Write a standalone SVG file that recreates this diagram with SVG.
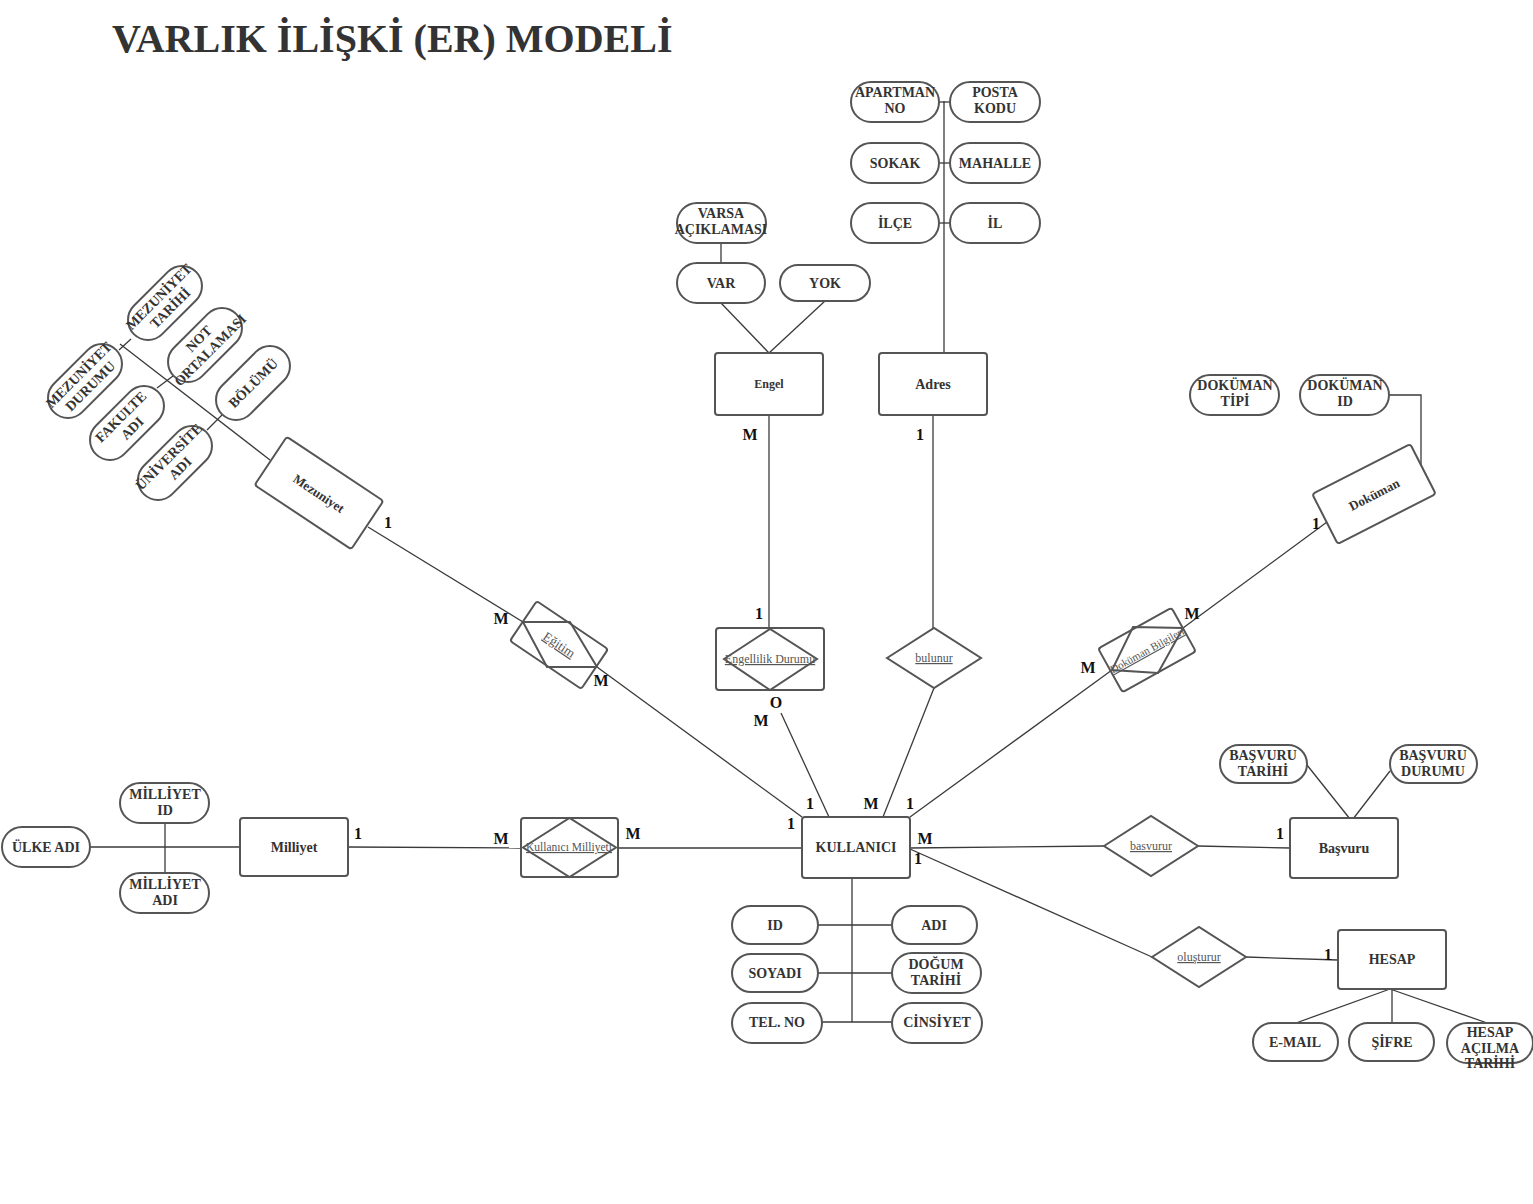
<svg xmlns="http://www.w3.org/2000/svg" width="1533" height="1204" viewBox="0 0 1533 1204">
<style>
.bx{fill:#fff;stroke:#555;stroke-width:2}
.sh{fill:none;stroke:#555;stroke-width:2}
.ln{fill:none;stroke:#3a3a3a;stroke-width:1.3}
.t{font-family:"Liberation Serif",serif;font-weight:bold;font-size:14px;fill:#333;text-anchor:middle}
.e{font-family:"Liberation Serif",serif;font-weight:bold;font-size:14px;fill:#333;text-anchor:middle}
.r{font-family:"Liberation Serif",serif;font-size:12px;fill:#555;text-anchor:middle;text-decoration:underline}
.c{font-family:"Liberation Serif",serif;font-weight:bold;font-size:16px;fill:#111;text-anchor:middle}
.title{font-family:"Liberation Serif",serif;font-weight:bold;font-size:40px;fill:#333}
</style>
<rect width="1533" height="1204" fill="#fff"/>
<text class="title" x="112" y="52">VARLIK İLİŞKİ (ER) MODELİ</text>

<g id="connectors">
<line class="ln" x1="120" y1="344" x2="270" y2="460"/>
<line class="ln" x1="119" y1="350" x2="131" y2="339"/>
<line class="ln" x1="157" y1="388" x2="173" y2="376"/>
<line class="ln" x1="207" y1="430" x2="222" y2="415"/>
<line class="ln" x1="368" y1="527" x2="523" y2="622"/>
<line class="ln" x1="597" y1="667" x2="802" y2="817"/>
<line class="ln" x1="721" y1="243" x2="721" y2="263"/>
<line class="ln" x1="721" y1="303" x2="769" y2="353"/>
<line class="ln" x1="825" y1="301" x2="769" y2="353"/>
<line class="ln" x1="769" y1="415" x2="769" y2="629"/>
<line class="ln" x1="781" y1="713" x2="829" y2="817"/>
<line class="ln" x1="944" y1="101" x2="944" y2="352"/>
<line class="ln" x1="939" y1="102" x2="950" y2="102"/>
<line class="ln" x1="939" y1="163" x2="950" y2="163"/>
<line class="ln" x1="939" y1="223" x2="950" y2="223"/>
<line class="ln" x1="933" y1="415" x2="933" y2="628"/>
<line class="ln" x1="934" y1="688" x2="883" y2="817"/>
<polyline class="ln" points="1389,395 1421,395 1421,465"/>
<line class="ln" x1="1327" y1="522" x2="1183" y2="628"/>
<line class="ln" x1="1112" y1="670" x2="910" y2="817"/>
<line class="ln" x1="90" y1="847" x2="240" y2="847"/>
<line class="ln" x1="165" y1="823" x2="165" y2="873"/>
<line class="ln" x1="348" y1="847" x2="521" y2="848"/>
<line class="ln" x1="618" y1="848" x2="802" y2="848"/>
<line class="ln" x1="910" y1="848" x2="1104" y2="846"/>
<line class="ln" x1="1198" y1="846" x2="1290" y2="848"/>
<line class="ln" x1="910" y1="849" x2="1152" y2="957"/>
<line class="ln" x1="1246" y1="957" x2="1338" y2="960"/>
<line class="ln" x1="1307" y1="765" x2="1350" y2="819"/>
<line class="ln" x1="1390" y1="771" x2="1353" y2="819"/>
<line class="ln" x1="1390" y1="989" x2="1296" y2="1023"/>
<line class="ln" x1="1392" y1="989" x2="1392" y2="1023"/>
<line class="ln" x1="1390" y1="989" x2="1490" y2="1024"/>
<line class="ln" x1="852" y1="878" x2="852" y2="1022"/>
<line class="ln" x1="818" y1="925" x2="892" y2="925"/>
<line class="ln" x1="818" y1="973" x2="892" y2="973"/>
<line class="ln" x1="822" y1="1022" x2="892" y2="1022"/>
</g>

<g id="cardinalities">
<text class="c" x="388" y="528">1</text>
<text class="c" x="501" y="624">M</text>
<text class="c" x="601" y="686">M</text>
<text class="c" x="750" y="440">M</text>
<text class="c" x="920" y="440">1</text>
<text class="c" x="759" y="619">1</text>
<text class="c" x="776" y="708">O</text>
<text class="c" x="761" y="726">M</text>
<text class="c" x="810" y="809">1</text>
<text class="c" x="871" y="809">M</text>
<text class="c" x="910" y="809">1</text>
<text class="c" x="791" y="829">1</text>
<text class="c" x="925" y="844">M</text>
<text class="c" x="918" y="864">1</text>
<text class="c" x="358" y="839">1</text>
<text class="c" x="501" y="844">M</text>
<text class="c" x="633" y="839">M</text>
<text class="c" x="1316" y="529">1</text>
<text class="c" x="1192" y="619">M</text>
<text class="c" x="1088" y="673">M</text>
<text class="c" x="1280" y="839">1</text>
<text class="c" x="1328" y="960">1</text>
</g>

<!-- Entities -->
<g id="kullanici"><rect class="bx" x="802" y="817" width="108" height="61" rx="3"/><text class="e" x="856" y="852">KULLANICI</text></g>
<g id="milliyet"><rect class="bx" x="240" y="818" width="108" height="58" rx="3"/><text class="e" x="294" y="852">Milliyet</text></g>
<g id="engel"><rect class="bx" x="715" y="353" width="108" height="62" rx="3"/><text class="e" x="769" y="388" style="font-size:12px">Engel</text></g>
<g id="adres"><rect class="bx" x="879" y="353" width="108" height="62" rx="3"/><text class="e" x="933" y="389">Adres</text></g>
<g id="basvuru"><rect class="bx" x="1290" y="818" width="108" height="60" rx="3"/><text class="e" x="1344" y="853">Başvuru</text></g>
<g id="hesap"><rect class="bx" x="1338" y="930" width="108" height="59" rx="3"/><text class="e" x="1392" y="964">HESAP</text></g>
<g id="mezuniyet" transform="translate(319,493) rotate(33.6)"><rect class="bx" x="-58" y="-29" width="116" height="58" rx="3"/><text class="e" x="0" y="5" style="font-size:13px">Mezuniyet</text></g>
<g id="dokuman" transform="translate(1374,494) rotate(-27)"><rect class="bx" x="-55" y="-28" width="110" height="56" rx="3"/><text class="e" x="0" y="5" style="font-size:13px">Doküman</text></g>

<!-- Relationships -->
<g id="kullanici-milliyeti"><rect class="bx" x="521" y="818" width="97" height="59" rx="3"/><polygon class="sh" points="523,847.5 569.5,818 616,847.5 569.5,877"/><text class="r" x="569" y="851" style="font-size:11.5px">Kullanıcı Milliyeti</text></g>
<g id="engellilik-durumu"><rect class="bx" x="716" y="628" width="108" height="62" rx="3"/><polygon class="sh" points="724,659 770,629 817,659 770,690"/><text class="r" x="770" y="663">Engellilik Durumu</text></g>
<g id="bulunur"><polygon class="bx" points="887,658 934,628 981,658 934,688"/><text class="r" x="934" y="662">bulunur</text></g>
<g id="basvurur"><polygon class="bx" points="1104,846 1151,816 1198,846 1151,876"/><text class="r" x="1151" y="850">basvurur</text></g>
<g id="olusturur"><polygon class="bx" points="1152,957 1199,927 1246,957 1199,987"/><text class="r" x="1199" y="961">oluşturur</text></g>
<g id="egitim"><g transform="translate(559,645) rotate(34)"><rect class="bx" x="-43" y="-24" width="86" height="48" rx="3"/></g><polygon class="sh" points="523,622 570,622 597,667 547,667"/><text class="r" transform="translate(559,645) rotate(34)" x="0" y="4" style="font-size:13px">Eğitim</text></g>
<g id="dokuman-bilgileri"><g transform="translate(1147,650) rotate(-29)"><rect class="bx" x="-42" y="-25" width="84" height="50" rx="3"/></g><polygon class="sh" points="1133,627 1183,628 1158,673 1112,670"/><text class="r" transform="translate(1147,650) rotate(-29)" x="0" y="4" style="font-size:11px">Doküman Bilgileri</text></g>

<!-- Attributes -->
<g id="varsa-aciklamasi"><rect class="bx" x="677" y="203" width="89" height="40" rx="20"/><text class="t" x="721" y="218">VARSA</text><text class="t" x="721" y="234">AÇIKLAMASI</text></g>
<g id="var"><rect class="bx" x="677" y="263" width="88" height="40" rx="20"/><text class="t" x="721" y="288">VAR</text></g>
<g id="yok"><rect class="bx" x="780" y="265" width="90" height="36" rx="18"/><text class="t" x="825" y="288">YOK</text></g>
<g id="apartman-no"><rect class="bx" x="851" y="82" width="88" height="40" rx="20"/><text class="t" x="895" y="97">APARTMAN</text><text class="t" x="895" y="113">NO</text></g>
<g id="posta-kodu"><rect class="bx" x="950" y="82" width="90" height="40" rx="20"/><text class="t" x="995" y="97">POSTA</text><text class="t" x="995" y="113">KODU</text></g>
<g id="sokak"><rect class="bx" x="851" y="143" width="88" height="40" rx="20"/><text class="t" x="895" y="168">SOKAK</text></g>
<g id="mahalle"><rect class="bx" x="950" y="143" width="90" height="40" rx="20"/><text class="t" x="995" y="168">MAHALLE</text></g>
<g id="ilce"><rect class="bx" x="851" y="203" width="88" height="40" rx="20"/><text class="t" x="895" y="228">İLÇE</text></g>
<g id="il"><rect class="bx" x="950" y="203" width="90" height="40" rx="20"/><text class="t" x="995" y="228">İL</text></g>
<g id="dokuman-tipi"><rect class="bx" x="1190" y="375" width="89" height="40" rx="20"/><text class="t" x="1235" y="390">DOKÜMAN</text><text class="t" x="1235" y="406">TİPİ</text></g>
<g id="dokuman-id"><rect class="bx" x="1300" y="375" width="89" height="40" rx="20"/><text class="t" x="1345" y="390">DOKÜMAN</text><text class="t" x="1345" y="406">ID</text></g>
<g id="basvuru-tarihi"><rect class="bx" x="1220" y="745" width="87" height="38" rx="19"/><text class="t" x="1263" y="760">BAŞVURU</text><text class="t" x="1263" y="776">TARİHİ</text></g>
<g id="basvuru-durumu"><rect class="bx" x="1390" y="745" width="87" height="38" rx="19"/><text class="t" x="1433" y="760">BAŞVURU</text><text class="t" x="1433" y="776">DURUMU</text></g>
<g id="e-mail"><rect class="bx" x="1253" y="1023" width="85" height="38" rx="19"/><text class="t" x="1295" y="1047">E-MAIL</text></g>
<g id="sifre"><rect class="bx" x="1349" y="1023" width="85" height="38" rx="19"/><text class="t" x="1392" y="1047">ŞİFRE</text></g>
<g id="hesap-acilma-tarihi"><rect class="bx" x="1447" y="1023" width="86" height="40" rx="20"/><text class="t" x="1490" y="1037">HESAP</text><text class="t" x="1490" y="1053">AÇILMA</text><text class="t" x="1490" y="1068">TARİHİ</text></g>
<g id="ulke-adi"><rect class="bx" x="2" y="827" width="88" height="40" rx="20"/><text class="t" x="46" y="852">ÜLKE ADI</text></g>
<g id="milliyet-id"><rect class="bx" x="120" y="783" width="89" height="40" rx="20"/><text class="t" x="165" y="799">MİLLİYET</text><text class="t" x="165" y="815">ID</text></g>
<g id="milliyet-adi"><rect class="bx" x="120" y="873" width="89" height="40" rx="20"/><text class="t" x="165" y="889">MİLLİYET</text><text class="t" x="165" y="905">ADI</text></g>
<g id="id"><rect class="bx" x="732" y="906" width="86" height="38" rx="19"/><text class="t" x="775" y="930">ID</text></g>
<g id="adi"><rect class="bx" x="892" y="906" width="85" height="38" rx="19"/><text class="t" x="934" y="930">ADI</text></g>
<g id="soyadi"><rect class="bx" x="732" y="954" width="86" height="38" rx="19"/><text class="t" x="775" y="978">SOYADI</text></g>
<g id="dogum-tarihi"><rect class="bx" x="892" y="953" width="89" height="40" rx="20"/><text class="t" x="936" y="969">DOĞUM</text><text class="t" x="936" y="985">TARİHİ</text></g>
<g id="tel-no"><rect class="bx" x="732" y="1003" width="90" height="40" rx="20"/><text class="t" x="777" y="1027">TEL. NO</text></g>
<g id="cinsiyet"><rect class="bx" x="892" y="1003" width="90" height="40" rx="20"/><text class="t" x="937" y="1027">CİNSİYET</text></g>

<g id="mezuniyet-tarihi" transform="translate(165,303) rotate(-45)"><rect class="bx" x="-44" y="-20" width="88" height="40" rx="20"/><text class="t" x="0" y="-4">MEZUNİYET</text><text class="t" x="0" y="12">TARİHİ</text></g>
<g id="mezuniyet-durumu" transform="translate(85,381) rotate(-45)"><rect class="bx" x="-44" y="-20" width="88" height="40" rx="20"/><text class="t" x="0" y="-4">MEZUNİYET</text><text class="t" x="0" y="12">DURUMU</text></g>
<g id="not-ortalamasi" transform="translate(205,345) rotate(-45)"><rect class="bx" x="-44" y="-20" width="88" height="40" rx="20"/><text class="t" x="0" y="-4">NOT</text><text class="t" x="0" y="12">ORTALAMASI</text></g>
<g id="fakulte-adi" transform="translate(127,423) rotate(-45)"><rect class="bx" x="-44" y="-20" width="88" height="40" rx="20"/><text class="t" x="0" y="-4">FAKULTE</text><text class="t" x="0" y="12">ADI</text></g>
<g id="bolumu" transform="translate(253,383) rotate(-45)"><rect class="bx" x="-44" y="-20" width="88" height="40" rx="20"/><text class="t" x="0" y="5">BÖLÜMÜ</text></g>
<g id="universite-adi" transform="translate(175,463) rotate(-45)"><rect class="bx" x="-44" y="-20" width="88" height="40" rx="20"/><text class="t" x="0" y="-4">ÜNİVERSİTE</text><text class="t" x="0" y="12">ADI</text></g>
</svg>
